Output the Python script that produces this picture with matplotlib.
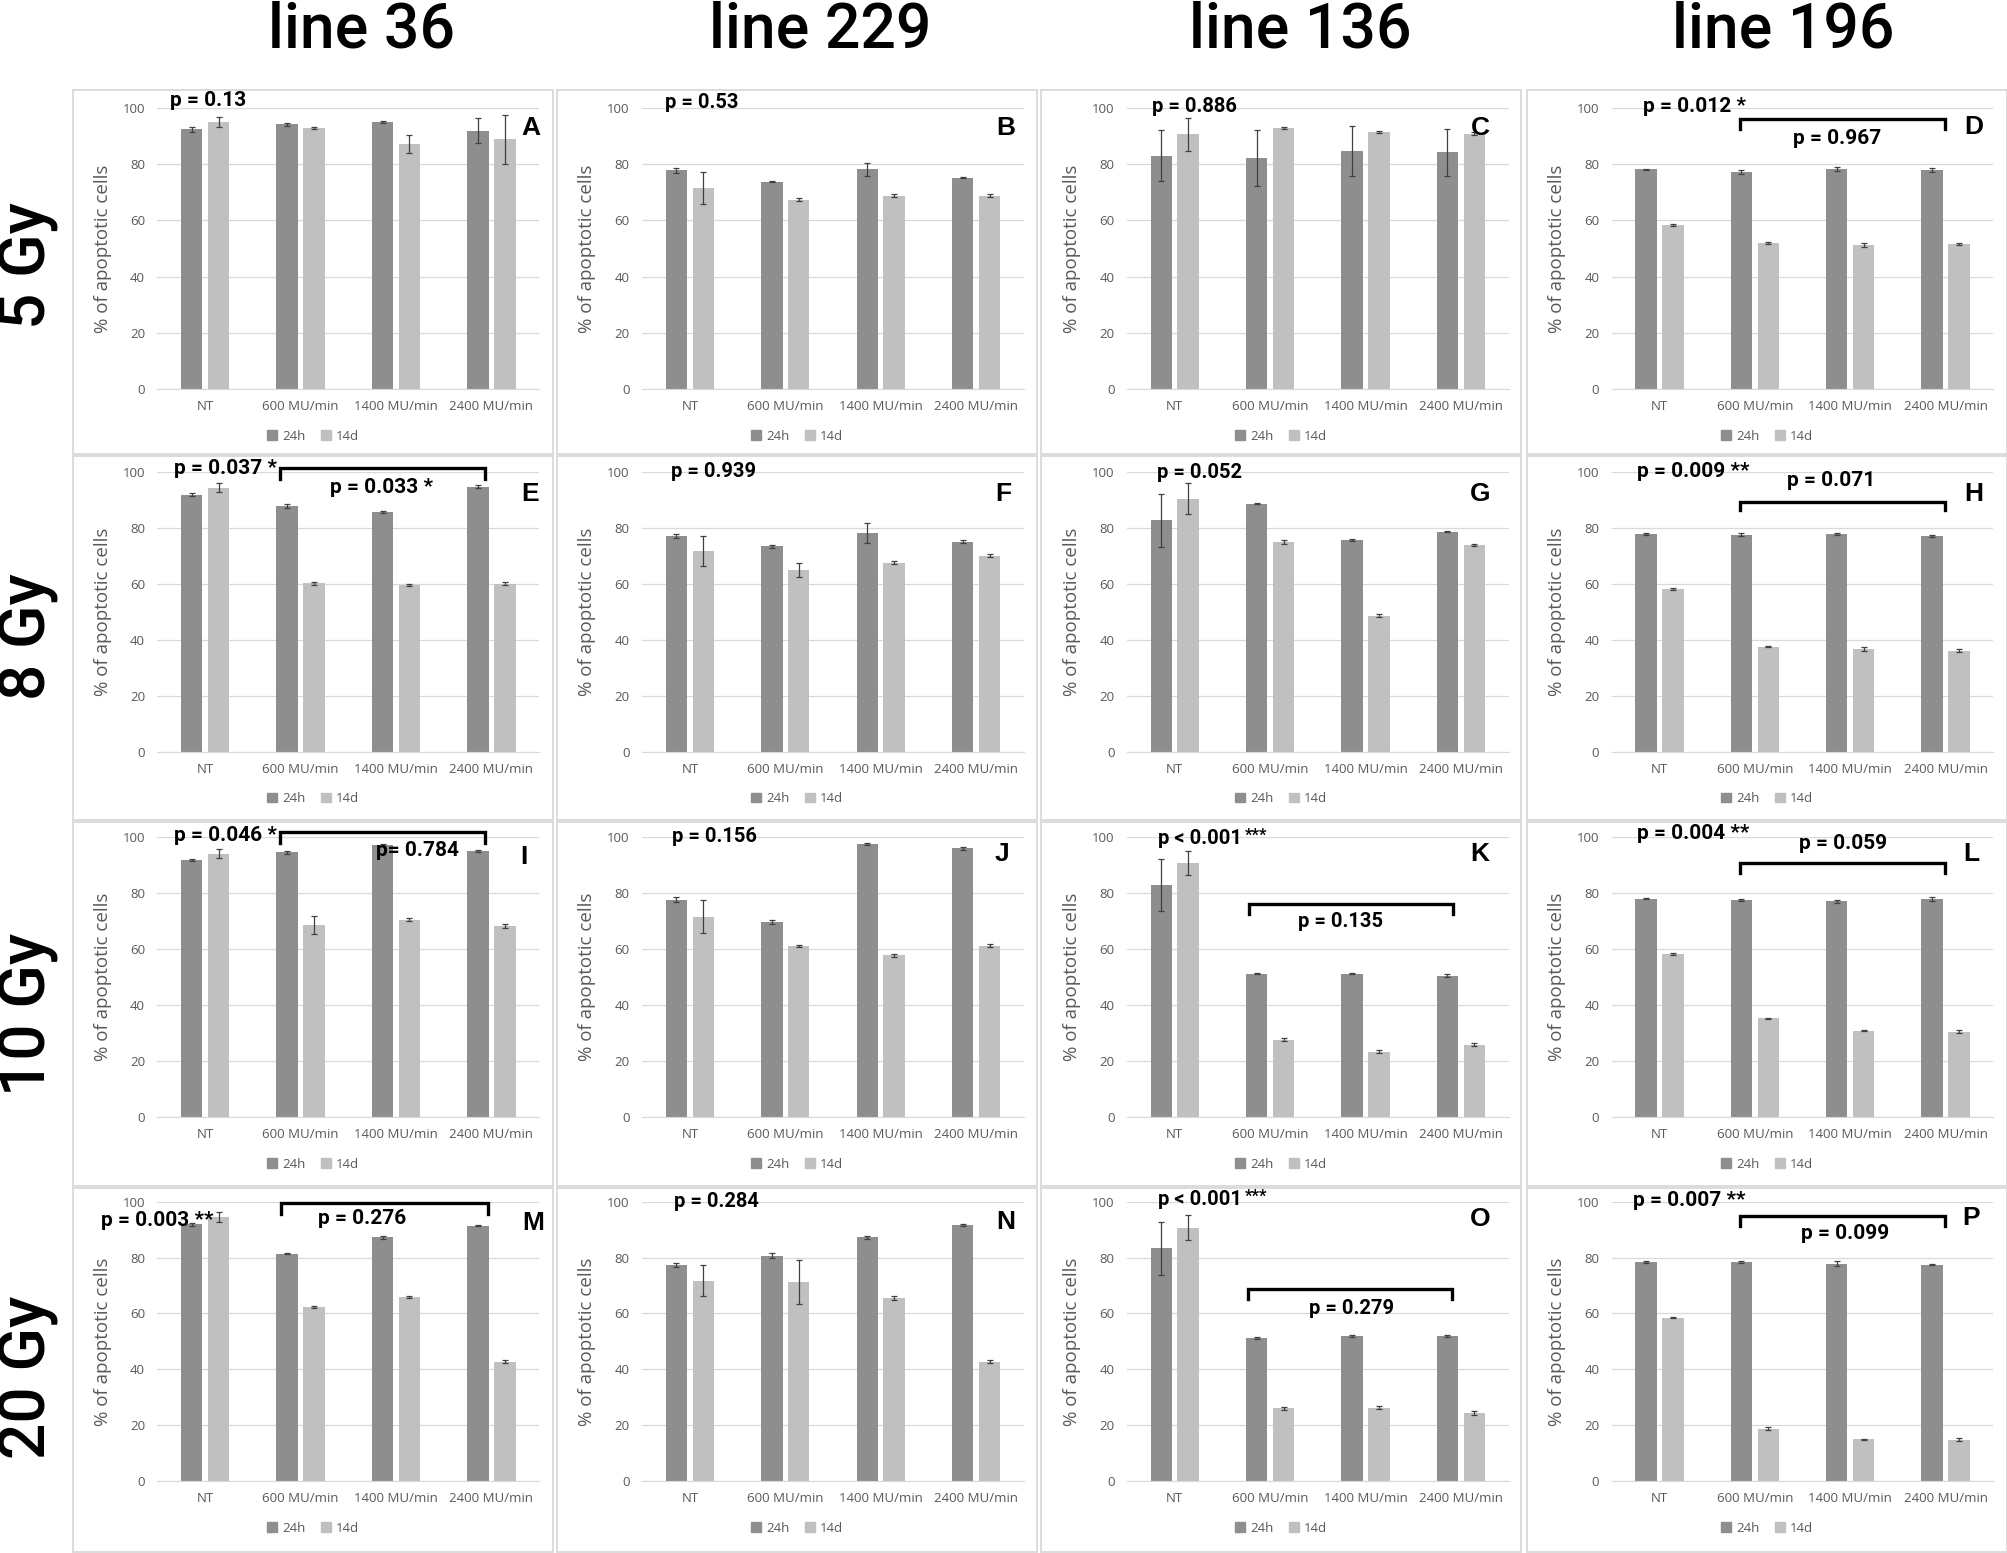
import numpy as np
import matplotlib
matplotlib.use('Agg')
import matplotlib.pyplot as plt
from matplotlib.patches import Rectangle, Patch

categories = ['NT', '600 MU/min', '1400 MU/min', '2400 MU/min']
cell_lines = ['line 36', 'line 229', 'line 136', 'line 196']
doses = ['5 Gy', '8 Gy', '10 Gy', '20 Gy']
series = ['24h', '14d']
letters = list('ABCDEFGHIJKLMNOP')

# % apoptotic cells (mean) and error bars
A_24h = [92.3, 94.1, 94.8, 91.9]; A_24h_err = [0.8, 0.6, 0.3, 4.3]
A_14d = [94.8, 92.8, 87.1, 88.8]; A_14d_err = [1.8, 0.3, 3.1, 8.7]
B_24h = [77.7, 73.7, 78.2, 75.2]; B_24h_err = [0.9, 0.2, 2.3, 0.2]
B_14d = [71.5, 67.3, 68.7, 68.7]; B_14d_err = [5.8, 0.5, 0.5, 0.5]
C_24h = [82.9, 82.1, 84.6, 84.1]; C_24h_err = [9.1, 9.9, 9.0, 8.5]
C_14d = [90.5, 92.8, 91.5, 90.8]; C_14d_err = [5.8, 0.5, 0.4, 0.5]
D_24h = [78.2, 77.0, 78.2, 77.8]; D_24h_err = [0.2, 0.7, 0.6, 0.8]
D_14d = [58.3, 52.0, 51.1, 51.5]; D_14d_err = [0.3, 0.3, 0.7, 0.3]

E_24h = [92.0, 87.9, 85.8, 94.9]; E_24h_err = [0.6, 0.6, 0.4, 0.5]
E_14d = [94.4, 60.3, 59.7, 60.1]; E_14d_err = [1.6, 0.5, 0.5, 0.5]
F_24h = [77.2, 73.5, 78.2, 75.2]; F_24h_err = [0.8, 0.5, 3.6, 0.6]
F_14d = [71.8, 65.2, 67.7, 70.1]; F_14d_err = [5.4, 2.5, 0.5, 0.5]
G_24h = [82.8, 88.8, 75.8, 78.8]; G_24h_err = [9.4, 0.3, 0.3, 0.2]
G_14d = [90.5, 74.9, 48.7, 74.1]; G_14d_err = [5.5, 0.7, 0.5, 0.3]
H_24h = [78.0, 77.7, 78.0, 77.2]; H_24h_err = [0.3, 0.5, 0.3, 0.2]
H_14d = [58.2, 37.6, 36.6, 36.2]; H_14d_err = [0.3, 0.3, 0.7, 0.5]

I_24h = [91.9, 94.6, 97.3, 95.1]; I_24h_err = [0.5, 0.5, 0.3, 0.2]
I_14d = [94.2, 68.7, 70.5, 68.2]; I_14d_err = [1.5, 3.2, 0.5, 0.7]
J_24h = [77.7, 69.7, 97.5, 96.0]; J_24h_err = [0.8, 0.6, 0.4, 0.6]
J_14d = [71.7, 61.2, 57.8, 61.3]; J_14d_err = [5.8, 0.4, 0.4, 0.6]
K_24h = [83.0, 51.3, 51.3, 50.5]; K_24h_err = [9.2, 0.2, 0.2, 0.5]
K_14d = [90.8, 27.7, 23.5, 26.0]; K_14d_err = [4.2, 0.6, 0.5, 0.7]
L_24h = [78.0, 77.6, 77.1, 78.0]; L_24h_err = [0.2, 0.2, 0.5, 0.7]
L_14d = [58.2, 35.3, 30.9, 30.6]; L_14d_err = [0.3, 0.2, 0.2, 0.6]

M_24h = [91.9, 81.4, 87.2, 91.4]; M_24h_err = [0.6, 0.3, 0.6, 0.2]
M_14d = [94.4, 62.3, 65.8, 42.7]; M_14d_err = [1.8, 0.3, 0.3, 0.6]
N_24h = [77.3, 80.7, 87.2, 91.7]; N_24h_err = [0.8, 0.8, 0.4, 0.3]
N_14d = [71.7, 71.3, 65.5, 42.7]; N_14d_err = [5.6, 8.0, 0.8, 0.6]
O_24h = [83.3, 51.2, 51.8, 51.8]; O_24h_err = [9.5, 0.2, 0.3, 0.3]
O_14d = [90.7, 26.0, 26.2, 24.2]; O_14d_err = [4.5, 0.5, 0.5, 0.7]
P_24h = [78.4, 78.4, 77.8, 77.5]; P_24h_err = [0.3, 0.3, 1.0, 0.2]
P_14d = [58.5, 18.7, 14.9, 14.8]; P_14d_err = [0.3, 0.5, 0.3, 0.5]

# p-value texts
p_main = {'A': 'p = 0.13', 'B': 'p = 0.53', 'C': 'p = 0.886', 'D': 'p = 0.012 *',
          'E': 'p = 0.037 *', 'F': 'p = 0.939', 'G': 'p = 0.052', 'H': 'p = 0.009 **',
          'I': 'p = 0.046 *', 'J': 'p = 0.156', 'K': 'p < 0.001', 'L': 'p = 0.004 **',
          'M': 'p = 0.003 **', 'N': 'p = 0.284', 'O': 'p < 0.001', 'P': 'p = 0.007 **'}
p_stars = {'K': '***', 'O': '***'}
p_bracket = {'D': 'p = 0.967', 'E': 'p = 0.033 *', 'H': 'p = 0.071', 'I': 'p= 0.784',
             'K': 'p = 0.135', 'L': 'p = 0.059', 'M': 'p = 0.276', 'O': 'p = 0.279',
             'P': 'p = 0.099'}

# annotation placement (data coords, NT = 0)
letter_pos = {'A': (3.41, 92.8), 'B': (3.31, 92.8), 'C': (3.2, 92.8), 'D': (3.29, 93.3),
              'E': (3.41, 92.2), 'F': (3.29, 92.4), 'G': (3.2, 92.3), 'H': (3.29, 92.4),
              'I': (3.34, 93.1), 'J': (3.27, 94.2), 'K': (3.2, 94.2), 'L': (3.27, 94.1),
              'M': (3.44, 92.5), 'N': (3.31, 92.7), 'O': (3.2, 93.7), 'P': (3.27, 94.1)}
p_main_pos = {'A': (-0.37, 102.6), 'B': (-0.26, 101.7), 'C': (-0.24, 100.5), 'D': (-0.168, 100.6),
              'E': (-0.325, 101.4), 'F': (-0.2, 100.3), 'G': (-0.19, 100.0), 'H': (-0.231, 100.3),
              'I': (-0.325, 100.8), 'J': (-0.19, 100.3), 'K': (-0.18, 99.7), 'L': (-0.238, 101.2),
              'M': (-1.095, 93.1), 'N': (-0.165, 100.0), 'O': (-0.175, 100.8), 'P': (-0.273, 100.6)}
star_pos = {'K': (0.74, 100.6), 'O': (0.74, 101.8)}
bracket_pos = {'D': (0.845, 2.99, 95.9, 92.4), 'E': (0.785, 2.93, 101.4, 97.6),
               'H': (0.845, 2.99, 89.4, 86.4), 'I': (0.785, 2.93, 101.8, 98.1),
               'K': (0.775, 2.92, 76.2, 72.5), 'L': (0.845, 2.99, 90.8, 87.4),
               'M': (0.796, 2.96, 99.4, 95.5), 'O': (0.765, 2.91, 68.8, 65.3),
               'P': (0.845, 2.99, 94.9, 91.3)}
p_bracket_pos = {'D': (1.86, 89.1), 'E': (1.85, 94.6), 'H': (1.80, 97.0), 'I': (2.22, 95.2),
                 'K': (1.74, 70.0), 'L': (1.92, 97.8), 'M': (1.64, 93.9), 'O': (1.85, 61.7),
                 'P': (1.95, 88.7)}

DARK = '#8e8e8e'
LIGHT = '#c0c0c0'
GRID = '#d9d9d9'
TXT = '#595959'

W, H = 2008, 1553
fig = plt.figure(figsize=(W / 100, H / 100), dpi=100)

plot_left = [157.5, 642.2, 1127.0, 1611.7]
plot_w = 381.6
row_zero = [389.3, 751.7, 1117.3, 1481.0]
row_top = [107.7, 472.3, 837.3, 1201.7]
frame_x = [73, 557, 1041, 1527]
frame_y = [90, 456, 822, 1188]
frame_w, frame_h = 480, 364

data = globals()
x = np.arange(len(categories))
bw = 0.225
off = 0.141

for r in range(4):
    for c in range(4):
        L = letters[r * 4 + c]
        fig.add_artist(Rectangle((frame_x[c] / W, 1 - (frame_y[r] + frame_h) / H),
                                 frame_w / W, frame_h / H, transform=fig.transFigure,
                                 fill=False, edgecolor=GRID, lw=1.3))
        ax = fig.add_axes([plot_left[c] / W, 1 - row_zero[r] / H,
                           plot_w / W, (row_zero[r] - row_top[r]) / H])
        ekw = dict(ecolor='#404040', elinewidth=0.9, capsize=2.5, capthick=0.9)
        ax.bar(x - off, data[L + '_24h'], bw, color=DARK, yerr=data[L + '_24h_err'],
               error_kw=ekw, zorder=2, label=series[0])
        ax.bar(x + off, data[L + '_14d'], bw, color=LIGHT, yerr=data[L + '_14d_err'],
               error_kw=ekw, zorder=2, label=series[1])
        ax.set_xlim(-0.5, 3.5)
        ax.set_ylim(0, 100)
        ax.set_yticks(range(0, 101, 20))
        ax.set_xticks(x)
        ax.set_xticklabels(categories)
        ax.yaxis.grid(True, color=GRID, lw=0.9)
        ax.set_axisbelow(True)
        for s in ['top', 'right', 'left']:
            ax.spines[s].set_visible(False)
        ax.spines['bottom'].set_color(GRID)
        ax.tick_params(length=0, labelcolor=TXT, labelsize=9.5)
        ax.tick_params(axis='y', pad=9)
        ax.tick_params(axis='x', pad=8)
        for t in ax.get_xticklabels() + ax.get_yticklabels():
            t.set_family('Open Sans')
        ax.text(-55 / plot_w, 0.5, '% of apoptotic cells', transform=ax.transAxes,
                rotation=90, ha='center', va='center', fontsize=13.5, color=TXT,
                family='Open Sans')

        pfam = 'Roboto'
        pfs = 15 if c in (0, 3) else 14.5
        px, py = p_main_pos[L]
        ax.text(px, py, p_main[L], ha='left', va='center', fontsize=pfs,
                fontweight='bold', family=pfam, clip_on=False, zorder=5)
        if L in p_stars:
            sx, sy = star_pos[L]
            ax.text(sx, sy, p_stars[L], ha='left', va='center', fontsize=12,
                    fontweight='bold', family=pfam, clip_on=False, zorder=5)
        if L in bracket_pos:
            x0, x1, yt, yb = bracket_pos[L]
            ax.plot([x0, x0, x1, x1], [yb, yt, yt, yb], color='black', lw=2.4,
                    clip_on=False, solid_joinstyle='miter', zorder=5)
            bx, by = p_bracket_pos[L]
            ax.text(bx, by, p_bracket[L], ha='center', va='center', fontsize=pfs,
                    fontweight='bold', family=pfam, clip_on=False, zorder=5)
        lx, ly = letter_pos[L]
        ax.text(lx, ly, L, ha='center', va='center', fontsize=19, fontweight='bold',
                family='Liberation Sans', clip_on=False, zorder=5)

        handles = [Patch(color=DARK), Patch(color=LIGHT)]
        leg = ax.legend(handles, series, loc='center', ncol=2, frameon=False,
                        bbox_to_anchor=((frame_x[c] + frame_w / 2) / W,
                                        1 - (row_zero[r] + 47) / H),
                        bbox_transform=fig.transFigure,
                        handlelength=0.75, handleheight=0.75, handletextpad=0.4,
                        columnspacing=1.2, prop={'family': 'Open Sans', 'size': 9.5})
        for t in leg.get_texts():
            t.set_color(TXT)

header_x = [362, 820, 1300, 1783]
for name, hx in zip(cell_lines, header_x):
    fig.text(hx / W, 1 - 47 / H, name, ha='center', va='baseline', fontsize=45,
             fontweight='medium', family='Roboto')

dose_y = [266, 637, 1014, 1377]
for d, dy in zip(doses, dose_y):
    fig.text(28 / W, 1 - dy / H, d, rotation=90, ha='center', va='center',
             fontsize=46, fontweight='medium', family='Roboto')

fig.savefig('out.png', dpi=100)
